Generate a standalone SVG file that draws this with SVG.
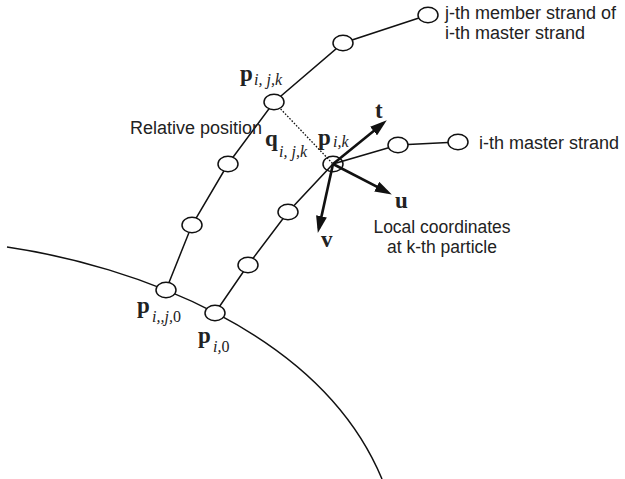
<svg xmlns="http://www.w3.org/2000/svg" width="625" height="479" viewBox="0 0 625 479">
<style>
.ln{fill:none;stroke:#111;stroke-width:1.5}
.nd{fill:#fff;stroke:#111;stroke-width:1.5}
.ar{fill:none;stroke:#111;stroke-width:2.6;marker-end:url(#ah)}
.lb{font-family:"Liberation Sans",Arial,sans-serif;font-size:18px;fill:#222}
.lc{font-size:17.5px}
.m{font-family:"Liberation Serif","Times New Roman",serif;font-weight:bold;font-size:23px;fill:#222}
.s{font-family:"Liberation Serif","Times New Roman",serif;font-style:italic;font-size:16px;fill:#222}
.up{font-style:normal}
</style>
<defs>
<marker id="ah" markerUnits="userSpaceOnUse" markerWidth="17" markerHeight="11" refX="12" refY="5.5" orient="auto">
<path d="M0,0 L17,5.5 L0,11 z" fill="#111"/>
</marker>
</defs>
<g id="connectors">
<path class="ln" d="M7,247 C130,265 320,330 382,479"/>
<polyline class="ln" points="166,290 192,225 228,164 274,102 343,43 428,15"/>
<polyline class="ln" points="215,313 248,265 288,212 333,164 398,145 458,142"/>
<line x1="274" y1="102" x2="333" y2="164" stroke="#111" stroke-width="1.3" stroke-dasharray="1.6,1.6"/>
</g>
<g id="member-strand">
<ellipse class="nd" cx="166" cy="290" rx="10" ry="7.8"/>
<ellipse class="nd" cx="192" cy="225" rx="10" ry="7.8"/>
<ellipse class="nd" cx="228" cy="164" rx="10" ry="7.8"/>
<ellipse class="nd" cx="274" cy="102" rx="10" ry="7.8"/>
<ellipse class="nd" cx="343" cy="43" rx="10" ry="7.8"/>
<ellipse class="nd" cx="428" cy="15" rx="10" ry="7.8"/>
</g>
<g id="master-strand">
<ellipse class="nd" cx="215" cy="313" rx="10" ry="7.8"/>
<ellipse class="nd" cx="248" cy="265" rx="10" ry="7.8"/>
<ellipse class="nd" cx="288" cy="212" rx="10" ry="7.8"/>
<ellipse class="nd" cx="333" cy="164" rx="10" ry="7.8" style="fill:none"/>
<ellipse class="nd" cx="398" cy="145" rx="10" ry="7.8"/>
<ellipse class="nd" cx="458" cy="142" rx="10" ry="7.8"/>
</g>
<g id="local-axes">
<line class="ar" x1="333" y1="164" x2="382.9" y2="123.5"/>
<line class="ar" x1="333" y1="164" x2="387.4" y2="192.2"/>
<line class="ar" x1="333" y1="164" x2="318.9" y2="228.1"/>
<text class="m" x="375" y="118">t</text>
<text class="m" x="395" y="208">u</text>
<text class="m" x="321" y="247">v</text>
</g>
<g id="labels">
<text class="lb" x="445" y="19">j-th member strand of</text>
<text class="lb" x="445" y="39">i-th master strand</text>
<text class="lb" x="479" y="149">i-th master strand</text>
<text class="lb" x="130" y="134">Relative position</text>
<text class="lb lc" x="442" y="233" text-anchor="middle">Local coordinates</text>
<text class="lb lc" x="442" y="253" text-anchor="middle">at k-th particle</text>
<text class="m" x="240" y="81">p</text><text class="s" x="254" y="85">i, j,k</text>
<text class="m" x="265" y="146">q</text><text class="s" x="279" y="157">i, j,k</text>
<text class="m" x="318" y="145">p</text><text class="s" x="333" y="147">i,k</text>
<text class="m" x="137" y="313">p</text><text class="s" x="152" y="322">i,,j,<tspan class="up">0</tspan></text>
<text class="m" x="198" y="343">p</text><text class="s" x="213" y="352">i,<tspan class="up">0</tspan></text>
</g>
</svg>
